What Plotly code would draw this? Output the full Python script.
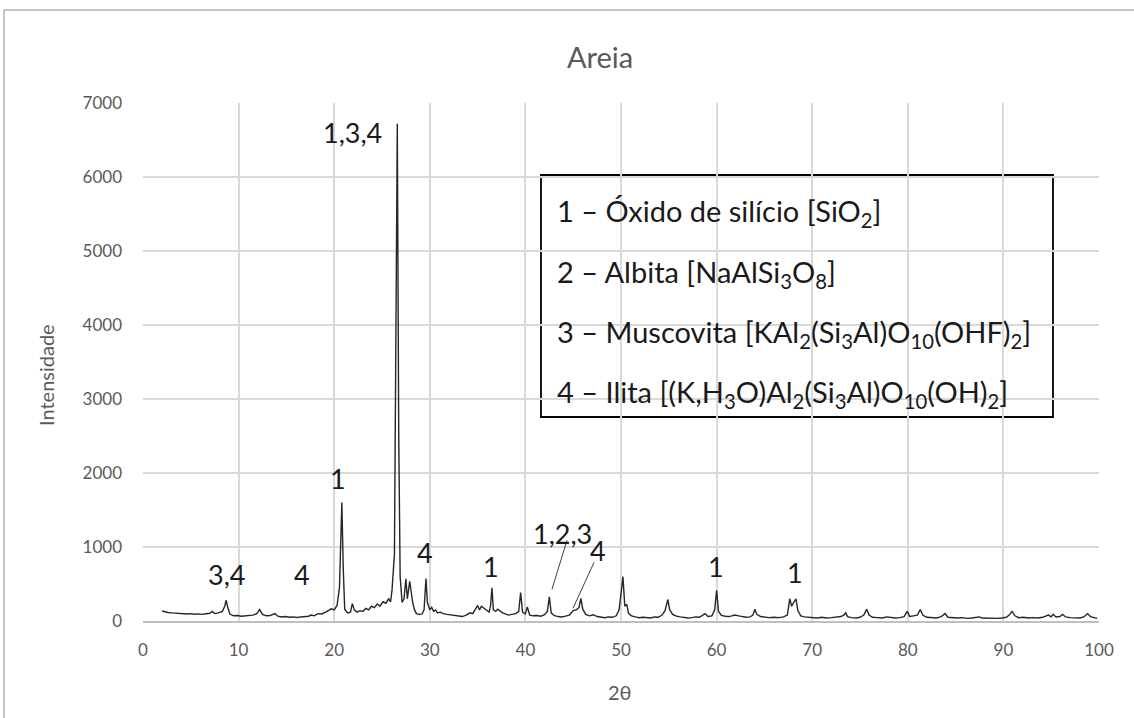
import plotly.graph_objects as go

two_theta = [2.0, 2.3, 2.6, 3.0, 3.4, 3.8, 4.2, 4.6, 5.0, 5.4, 5.8, 6.2, 6.6, 7.0, 7.25, 7.5, 7.9, 8.3, 8.55, 8.7,
             8.85, 9.1, 9.5, 9.9, 10.3, 10.7, 11.1, 11.5, 11.9, 12.2, 12.5, 12.9, 13.3, 13.8, 14.1, 14.5, 14.9, 15.3, 15.7, 16.1,
             16.5, 16.9, 17.3, 17.6, 17.9, 18.3, 18.7, 19.1, 19.4, 19.7, 20.0, 20.3, 20.55, 20.8, 20.95, 21.1, 21.4, 21.7, 21.9, 22.1,
             22.4, 22.7, 23.0, 23.3, 23.6, 23.9, 24.2, 24.5, 24.8, 25.1, 25.4, 25.7, 25.9, 26.05, 26.3, 26.5, 26.6, 26.75, 26.9, 27.1,
             27.3, 27.5, 27.65, 27.9, 28.05, 28.2, 28.4, 28.6, 28.9, 29.2, 29.4, 29.6, 29.75, 30.0, 30.2, 30.4, 30.6, 30.8, 31.1, 31.4,
             31.8, 32.2, 32.6, 33.0, 33.4, 33.8, 34.2, 34.5, 34.8, 35.0, 35.2, 35.4, 35.6, 35.9, 36.2, 36.35, 36.5, 36.65, 36.9, 37.1,
             37.3, 37.6, 37.9, 38.2, 38.6, 39.0, 39.3, 39.5, 39.7, 40.0, 40.2, 40.45, 40.8, 41.2, 41.6, 42.0, 42.3, 42.5, 42.7, 43.0,
             43.4, 43.8, 44.2, 44.6, 45.0, 45.3, 45.6, 45.8, 46.0, 46.3, 46.7, 47.1, 47.5, 47.9, 48.3, 48.7, 49.1, 49.5, 49.8, 50.05,
             50.2, 50.4, 50.6, 50.8, 51.1, 51.5, 51.9, 52.3, 52.7, 53.1, 53.5, 53.9, 54.3, 54.6, 54.9, 55.1, 55.4, 55.8, 56.2, 56.6,
             57.0, 57.4, 57.8, 58.2, 58.5, 58.8, 59.1, 59.5, 59.8, 60.0, 60.2, 60.5, 60.9, 61.3, 61.6, 61.9, 62.3, 62.7, 63.1, 63.5,
             63.8, 64.0, 64.2, 64.6, 65.0, 65.5, 66.0, 66.5, 67.0, 67.4, 67.65, 67.85, 68.05, 68.3, 68.5, 68.8, 69.2, 69.6, 70.0, 70.5,
             71.0, 71.5, 72.0, 72.5, 73.0, 73.3, 73.5, 73.7, 74.1, 74.6, 75.0, 75.4, 75.7, 75.95, 76.3, 76.8, 77.3, 77.8, 78.2, 78.7,
             79.2, 79.6, 79.95, 80.2, 80.6, 81.0, 81.3, 81.6, 82.0, 82.5, 83.0, 83.5, 83.9, 84.2, 84.7, 85.2, 85.7, 86.2, 86.7, 87.2,
             87.5, 87.8, 88.3, 88.8, 89.3, 89.8, 90.3, 90.6, 90.9, 91.2, 91.6, 92.1, 92.6, 93.1, 93.6, 94.1, 94.5, 94.7, 95.0, 95.2,
             95.5, 95.9, 96.2, 96.5, 97.0, 97.5, 98.0, 98.4, 98.8, 99.1, 99.5, 99.8]

intensity = [135, 120, 115, 110, 104, 108, 98, 95, 100, 92, 96, 90, 98, 105, 130, 100, 110, 130, 200, 280,
             190, 90, 70, 75, 65, 70, 68, 80, 100, 155, 90, 70, 75, 100, 65, 55, 60, 50, 55, 48,
             55, 60, 65, 80, 70, 100, 95, 120, 140, 165, 150, 210, 450, 1600, 700, 160, 110, 120, 235, 150,
             120, 140, 130, 170, 150, 200, 180, 230, 200, 260, 240, 300, 260, 420, 900, 4000, 6720, 2500, 600, 250,
             300, 570, 300, 535, 350, 257, 150, 100, 90, 95, 150, 575, 250, 150, 185, 130, 150, 110, 120, 100,
             90, 85, 75, 65, 60, 80, 110, 100, 170, 210, 150, 200, 180, 150, 120, 200, 450, 150, 130, 160,
             140, 110, 95, 80, 90, 100, 130, 385, 120, 95, 190, 80, 70, 75, 65, 85, 130, 325, 110, 75,
             60, 55, 65, 80, 140, 150, 180, 305, 160, 90, 70, 85, 60, 50, 45, 55, 50, 70, 150, 420,
             600, 200, 225, 100, 70, 55, 45, 50, 45, 40, 55, 50, 80, 140, 290, 150, 90, 65, 55, 45,
             40, 45, 55, 50, 70, 100, 60, 70, 150, 415, 130, 75, 65, 60, 70, 80, 70, 55, 50, 55,
             80, 160, 90, 60, 50, 45, 50, 45, 55, 80, 300, 200, 250, 300, 140, 70, 55, 50, 45, 40,
             50, 40, 45, 55, 60, 80, 110, 60, 45, 40, 50, 80, 160, 80, 50, 45, 40, 55, 45, 40,
             45, 60, 130, 60, 70, 80, 155, 75, 50, 45, 40, 60, 100, 50, 40, 40, 45, 35, 40, 45,
             55, 40, 35, 40, 35, 40, 50, 80, 130, 70, 45, 50, 40, 45, 40, 50, 70, 80, 55, 90,
             55, 60, 90, 55, 45, 40, 40, 55, 100, 60, 40, 35]

x_ticks = [0, 10, 20, 30, 40, 50, 60, 70, 80, 90, 100]
y_ticks = [0, 1000, 2000, 3000, 4000, 5000, 6000, 7000]

peak_labels = ["3,4", "4", "1", "1,3,4", "4", "1", "1,2,3", "4", "1", "1"]
peak_label_x = [8.7, 16.6, 20.4, 21.9, 29.5, 36.4, 43.9, 47.6, 59.9, 68.2]
peak_label_y = [631, 631, 1928, 6604, 928, 739, 1185, 950, 739, 658]

leader_x0 = [44.35, 47.18]
leader_y0 = [1091, 793]
leader_x1 = [42.78, 44.98]
leader_y1 = [429, 172]

legend_lines = [
    "1 – Óxido de silício [SiO<sub>2</sub>]",
    "2 – Albita [NaAlSi<sub>3</sub>O<sub>8</sub>]",
    "3 – Muscovita [KAl<sub>2</sub>(Si<sub>3</sub>Al)O<sub>10</sub>(OHF)<sub>2</sub>]",
    "4 – Ilita [(K,H<sub>3</sub>O)Al<sub>2</sub>(Si<sub>3</sub>Al)O<sub>10</sub>(OH)<sub>2</sub>]",
]

FONT = "Lato, Carlito, Calibri, sans-serif"
GRAY = "#595959"

fig = go.Figure()
fig.add_trace(go.Scatter(x=two_theta, y=intensity, mode="lines",
                         line=dict(color="#262626", width=1.4), showlegend=False,
                         hoverinfo="x+y"))

W, H = 1134, 718
ml, mr, mt, mb = 143, 35, 103, 97
pw = W - ml - mr
ph = H - mt - mb


def px_x(p):
    return (p - ml) / pw


def px_y(p):
    return (H - mb - p) / ph


annotations = []
for t, x, y in zip(peak_labels, peak_label_x, peak_label_y):
    annotations.append(dict(x=x, y=y, xref="x", yref="y", text=t, showarrow=False,
                            font=dict(family=FONT, size=27, color="#1a1a1a"),
                            xanchor="center", yanchor="middle"))

for i, t in enumerate(legend_lines):
    annotations.append(dict(x=px_x(555), y=px_y([212, 273, 333, 393][i]), xref="paper", yref="paper",
                            text=t, showarrow=False, xanchor="left", yanchor="middle",
                            font=dict(family=FONT, size=29, color="#1a1a1a")))

annotations.append(dict(x=px_x(600), y=px_y(57), xref="paper", yref="paper", text="Areia",
                        showarrow=False, font=dict(family=FONT, size=29, color=GRAY),
                        xanchor="center", yanchor="middle"))
annotations.append(dict(x=px_x(620), y=px_y(692), xref="paper", yref="paper", text="2θ",
                        showarrow=False, font=dict(family=FONT, size=20, color=GRAY),
                        xanchor="center", yanchor="middle"))
annotations.append(dict(x=px_x(46), y=px_y(375), xref="paper", yref="paper", text="Intensidade",
                        showarrow=False, textangle=-90, font=dict(family=FONT, size=20, color=GRAY),
                        xanchor="center", yanchor="middle"))

shapes = []
for a, b, c, d in zip(leader_x0, leader_y0, leader_x1, leader_y1):
    shapes.append(dict(type="line", xref="x", yref="y", x0=a, y0=b, x1=c, y1=d,
                       line=dict(color="#404040", width=1)))
# legend box
shapes.append(dict(type="rect", xref="paper", yref="paper",
                   x0=px_x(541), x1=px_x(1053), y0=px_y(417), y1=px_y(175),
                   line=dict(color="#000000", width=1.8), fillcolor="white", layer="below"))
# outer chart border
shapes.append(dict(type="line", xref="paper", yref="paper", x0=px_x(4), x1=px_x(1140),
                   y0=px_y(10), y1=px_y(10), line=dict(color="#8c8c8c", width=1)))
shapes.append(dict(type="line", xref="paper", yref="paper", x0=px_x(4), x1=px_x(4),
                   y0=px_y(10), y1=px_y(725), line=dict(color="#8c8c8c", width=1)))

fig.update_layout(
    width=W, height=H,
    margin=dict(l=ml, r=mr, t=mt, b=mb, autoexpand=False),
    paper_bgcolor="white", plot_bgcolor="white",
    font=dict(family=FONT, color=GRAY),
    annotations=annotations, shapes=shapes,
    xaxis=dict(range=[0, 100], tickvals=x_ticks, ticktext=[str(v) for v in x_ticks],
               showgrid=True, gridcolor="#d9d9d9", gridwidth=1.5, zeroline=False,
               showline=True, linecolor="#bfbfbf", linewidth=2,
               ticks="", tickfont=dict(family=FONT, size=17, color=GRAY), ticklabelstandoff=13),
    yaxis=dict(range=[0, 7000], tickvals=y_ticks, ticktext=[str(v) for v in y_ticks],
               showgrid=True, gridcolor="#d9d9d9", gridwidth=1.5, zeroline=False,
               showline=False, ticks="", tickfont=dict(family=FONT, size=17, color=GRAY),
               ticklabelstandoff=20),
)

fig.write_html("out.html")
